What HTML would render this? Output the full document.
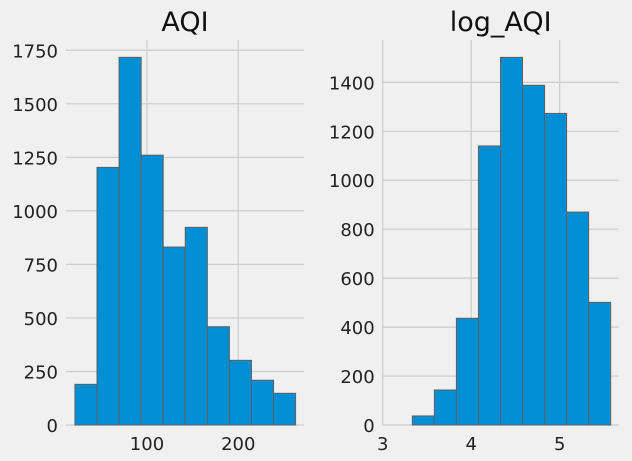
<!DOCTYPE html>
<html><head><meta charset="utf-8"><style>
html,body{margin:0;padding:0;background:#f0f0f0;}
svg{display:block;font-family:"DejaVu Sans","Liberation Sans",sans-serif;}
</style></head><body>
<svg id="c" width="632" height="461" viewBox="0 0 632 461">
<rect width="632" height="461" fill="#f0f0f0"/>
</svg>
<script>
// AQI panel data
const aqiEdgeStart = 21.1;
const aqiBinWidth = 24.17;
const aqiCounts = [190, 1203, 1717, 1260, 831, 923, 459, 302, 209, 148];
const aqiYTicks = [0, 250, 500, 750, 1000, 1250, 1500, 1750];
const aqiXTicks = [100, 200];
// log_AQI panel data
const logEdgeStart = 3.335;
const logBinWidth = 0.249;
const logCounts = [37, 143, 436, 1140, 1502, 1388, 1273, 870, 501];
const logYTicks = [0, 200, 400, 600, 800, 1000, 1200, 1400];
const logXTicks = [3, 4, 5];

const NS = "http://www.w3.org/2000/svg";
const svg = document.getElementById('c');
function mk(tag, attrs, parent){const e=document.createElementNS(NS,tag);for(const k in attrs)e.setAttribute(k,attrs[k]);(parent||svg).appendChild(e);return e;}

function panel(p){
  const g = mk('g',{});
  
  
  const sx = v => p.x0 + (v - p.xmin)/(p.xmax - p.xmin)*(p.x1 - p.x0);
  const sy = v => p.y0 - (v - p.ymin)/(p.ymax - p.ymin)*(p.y0 - p.y1);
  p.yTicks.forEach(t=>{
    const y = sy(t);
    const l = mk('line',{x1:p.x0,x2:p.x1,y1:y,y2:y,stroke:'#cbcbcb','stroke-width':1.2},g);
    
    
    const tx = mk('text',{x:p.x0-8,y:y+7,'text-anchor':'end','font-size':18,fill:'#222'},g);
    tx.textContent = t;
    
    
  });
  p.xTicks.forEach(t=>{
    const x = sx(t);
    const l = mk('line',{x1:x,x2:x,y1:p.y1,y2:p.y0,stroke:'#cbcbcb','stroke-width':1.2},g);
    
    
    const tx = mk('text',{x:x,y:p.y0+25,'text-anchor':'middle','font-size':18,fill:'#222'},g);
    tx.textContent = t;
    
    
  });
  p.counts.forEach((c,i)=>{
    const a = p.edge + i*p.bw, b = a + p.bw;
    const r = mk('rect',{x:sx(a),y:sy(c),width:sx(b)-sx(a),height:sy(0)-sy(c),fill:'#008fd5',stroke:'#5f5f5f','stroke-width':1},g);
    
    
  });
  const t = mk('text',{x:(p.x0+p.x1)/2,y:31,'text-anchor':'middle','font-size':27,fill:'#111'},g);
  t.textContent = p.title;
  
  
}
panel({name:'aqi',title:'AQI',x0:66,x1:304,y0:425,y1:40,xmin:11.3,xmax:272,ymin:0,ymax:1798,
  yTicks:aqiYTicks,xTicks:aqiXTicks,counts:aqiCounts,edge:aqiEdgeStart,bw:aqiBinWidth});
panel({name:'log-aqi',title:'log_AQI',x0:382.7,x1:618.7,y0:425,y1:40,xmin:3,xmax:5.667,ymin:0,ymax:1573,
  yTicks:logYTicks,xTicks:logXTicks,counts:logCounts,edge:logEdgeStart,bw:logBinWidth});
</script>
</body></html>
